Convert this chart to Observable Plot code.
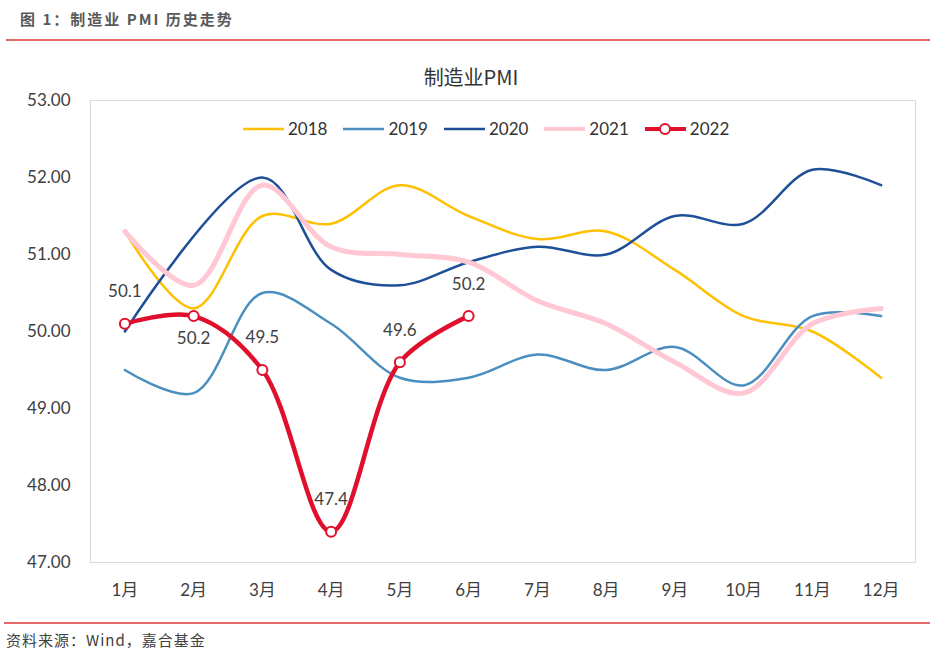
<!DOCTYPE html>
<html>
<head>
<meta charset="utf-8">
<script src="https://cdn.jsdelivr.net/npm/d3@7"></script>
<script src="https://cdn.jsdelivr.net/npm/@observablehq/plot@0.6"></script>
<style>
  body { margin: 0; background: #fff; font-family: Lato, "Noto Sans CJK SC", sans-serif; }
  #page { position: relative; width: 930px; height: 658px; overflow: hidden; }
  #header { position: absolute; left: 20px; top: 8px; font-size: 15px; font-weight: bold; color: #595959; letter-spacing: 2px; font-family: "Noto Sans CJK SC", sans-serif; }
  #topline { position: absolute; left: 6px; right: 0; top: 39px; height: 0; border-top: 2px solid #e46a6a; }
  #botline { position: absolute; left: 4px; right: 0; top: 622px; height: 0; border-top: 2px solid #e46a6a; }
  #footer { position: absolute; left: 6px; top: 629px; font-size: 15px; letter-spacing: 1px; color: #404040; font-family: "Noto Sans CJK SC", sans-serif; }
  #chart { position: absolute; left: 0; top: 45px; }
  #legend { position: absolute; top: 118px; left: 243px; display: flex; align-items: center; font-size: 17px; color: #333; }
  #legend .item { display: flex; align-items: center; margin-right: 16px; }
  #legend svg { margin-right: 4px; }
</style>
</head>
<body>
<div id="page">
  <div id="header">图 1：制造业 PMI 历史走势</div>
  <div id="topline"></div>
  <div id="chart"></div>
  <div id="legend"></div>
  <div id="botline"></div>
  <div id="footer">资料来源：Wind，嘉合基金</div>
</div>
<script>
const chartTitle = "制造业PMI";
const months = ["1月","2月","3月","4月","5月","6月","7月","8月","9月","10月","11月","12月"];
const yTicks = [47, 48, 49, 50, 51, 52, 53];
const seriesNames = ["2018", "2019", "2020", "2021", "2022"];
const pmi2018 = [51.3, 50.3, 51.5, 51.4, 51.9, 51.5, 51.2, 51.3, 50.8, 50.2, 50.0, 49.4];
const pmi2019 = [49.5, 49.2, 50.5, 50.1, 49.4, 49.4, 49.7, 49.5, 49.8, 49.3, 50.2, 50.2];
const pmi2020 = [50.0, null, 52.0, 50.8, 50.6, 50.9, 51.1, 51.0, 51.5, 51.4, 52.1, 51.9];
const pmi2021 = [51.3, 50.6, 51.9, 51.1, 51.0, 50.9, 50.4, 50.1, 49.6, 49.2, 50.1, 50.3];
const pmi2022 = [50.1, 50.2, 49.5, 47.4, 49.6, 50.2];

const colors = { "2018": "#FFC000", "2019": "#4A8FC0", "2020": "#1F4F99", "2021": "#FFC8D4", "2022": "#E0102D" };
const widths = { "2018": 2.5, "2019": 2.5, "2020": 2.5, "2021": 5, "2022": 4.5 };

const allSeries = { "2018": pmi2018, "2019": pmi2019, "2020": pmi2020, "2021": pmi2021, "2022": pmi2022 };
const rows = s => allSeries[s].map((v, i) => ({ month: months[i], value: v, series: s })).filter(d => d.value != null);

const marks = [Plot.frame({ stroke: "#d9d9d9", strokeWidth: 1 })];
for (const s of seriesNames) {
  marks.push(Plot.line(rows(s), { x: "month", y: "value", stroke: colors[s], strokeWidth: widths[s], curve: "catmull-rom" }));
}
const r22 = rows("2022");
marks.push(Plot.dot(r22, { x: "month", y: "value", r: 5, fill: "white", stroke: colors["2022"], strokeWidth: 2 }));
marks.push(Plot.text(r22.filter(d => d.month !== "2月"), { x: "month", y: "value", text: d => d.value.toFixed(1), dy: -32, fontSize: 17, fill: "#404040" }));
marks.push(Plot.text(r22.filter(d => d.month === "2月"), { x: "month", y: "value", text: d => d.value.toFixed(1), dy: 22, fontSize: 17, fill: "#404040" }));
marks.push(Plot.text([chartTitle], { frameAnchor: "top", dy: -30, dx: -32, fontSize: 20, fill: "#333", fontFamily: "'Noto Sans CJK SC', sans-serif" }));

const chart = Plot.plot({
  width: 930,
  height: 565,
  marginLeft: 90,
  marginRight: 15,
  marginTop: 55,
  marginBottom: 48,
  style: { fontSize: "17px", fontFamily: "Lato, 'Noto Sans CJK SC', sans-serif", color: "#404040", background: "white" },
  x: { type: "point", domain: months, padding: 0.5, round: false, label: null, tickSize: 0, tickPadding: 21 },
  y: { domain: [47, 53], ticks: yTicks, tickFormat: d => d.toFixed(2), label: null, tickSize: 0, tickPadding: 20 },
  marks
});
document.getElementById("chart").appendChild(chart);

const legend = document.getElementById("legend");
for (const s of seriesNames) {
  const item = document.createElement("div");
  item.className = "item";
  const marker = s === "2022" ? `<circle cx="20" cy="6" r="5" fill="white" stroke="${colors[s]}" stroke-width="2"/>` : "";
  item.innerHTML = `<svg width="41" height="12"><line x1="0" x2="41" y1="6" y2="6" stroke="${colors[s]}" stroke-width="${Math.min(widths[s], 4)}" stroke-linecap="round"/>${marker}</svg><span>${s}</span>`;
  legend.appendChild(item);
}
</script>
</body>
</html>
